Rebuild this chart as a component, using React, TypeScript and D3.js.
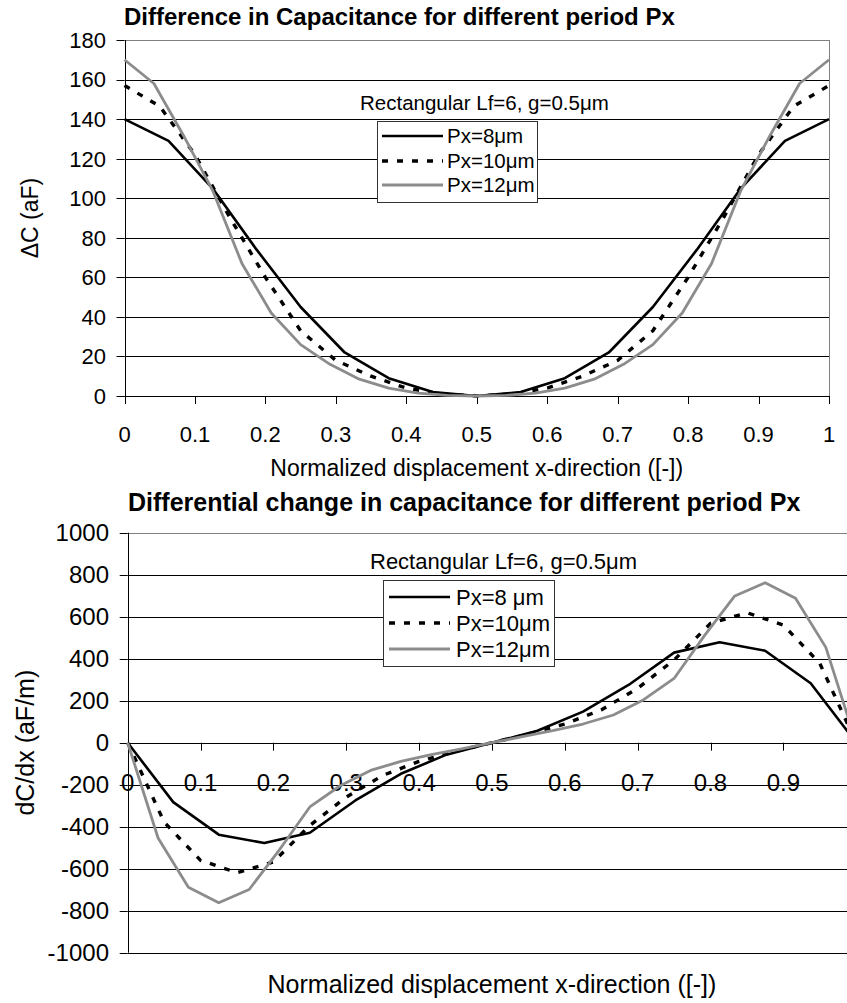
import React from "react";
import * as d3 from "d3";

// ---------- data ----------
const xTicks = [0, 0.1, 0.2, 0.3, 0.4, 0.5, 0.6, 0.7, 0.8, 0.9, 1];
const xTickLabels = ["0", "0.1", "0.2", "0.3", "0.4", "0.5", "0.6", "0.7", "0.8", "0.9", "1"];
const yTicksTop = [0, 20, 40, 60, 80, 100, 120, 140, 160, 180];
const yTicksBottom = [-1000, -800, -600, -400, -200, 0, 200, 400, 600, 800, 1000];

const x8 = [0, 0.0625, 0.125, 0.1875, 0.25, 0.3125, 0.375, 0.4375, 0.5, 0.5625, 0.625, 0.6875, 0.75, 0.8125, 0.875, 0.9375, 1];
const x10 = [0, 0.05, 0.1, 0.15, 0.2, 0.25, 0.3, 0.35, 0.4, 0.45, 0.5, 0.55, 0.6, 0.65, 0.7, 0.75, 0.8, 0.85, 0.9, 0.95, 1];
const x12 = [0, 0.0417, 0.0833, 0.125, 0.1667, 0.2083, 0.25, 0.2917, 0.3333, 0.375, 0.4167, 0.4583, 0.5,
  0.5417, 0.5833, 0.625, 0.6667, 0.7083, 0.75, 0.7917, 0.8333, 0.875, 0.9167, 0.9583, 1];

const dC8 = [140, 129, 105, 74, 45, 22, 9, 2, 0, 2, 9, 22, 45, 74, 105, 129, 140];
const dC10 = [157, 146.5, 122, 90, 60, 33, 18, 10, 4, 1, 0, 1, 4, 10, 18, 33, 60, 90, 122, 146.5, 157];
const dC12 = [170, 158, 132, 104, 67, 42, 26, 16, 8.5, 4, 1.5, 0.3, 0, 0.3, 1.5, 4, 8.5, 16, 26, 42, 67, 104, 132, 158, 170];

const dx8 = [0, -283, -438, -478, -429, -275, -148, -57, 0, 57, 148, 275, 429, 478, 438, 283, 0];
const dx10 = [0, -378, -560, -619, -568, -394, -259, -156, -89, -41, 0, 41, 89, 156, 259, 394, 568, 619, 560, 378, 0];
const dx12 = [0, -454, -688, -762, -699, -510, -306, -205, -132, -89, -57, -29, 0, 29, 57, 89, 132, 205, 306, 510, 699, 762, 688, 454, 0];

const legendTop = ["Px=8μm", "Px=10μm", "Px=12μm"];
const legendBottom = ["Px=8 μm", "Px=10μm", "Px=12μm"];
const noteText = "Rectangular Lf=6, g=0.5μm";

const FONT = "'Liberation Sans', Arial, sans-serif";

const styles = [
  { stroke: "#000", width: 2.6, dash: undefined as string | undefined },
  { stroke: "#000", width: 3.4, dash: "6,9" },
  { stroke: "#8c8c8c", width: 2.8, dash: undefined as string | undefined },
];

type Pt = [number, number];

function Panel(props: {
  x: d3.ScaleLinear<number, number>;
  y: d3.ScaleLinear<number, number>;
  yTicks: number[];
  series: { xs: number[]; ys: number[] }[];
  title: string;
  titleX: number;
  titleY: number;
  titleSize: number;
  fs: number;
  yLabel: string;
  yLabelX: number;
  xLabelY: number;
  xLabelSize: number;
  tickLabelY: number;
  axisY: number;
  yLabelRight: number;
  legend: string[];
  legBox: { x: number; y: number; w: number; h: number };
  legRows: number[];
  legLine: [number, number];
  legTextX: number;
  legFs: number;
  noteX: number;
  noteY: number;
  xTickCount: number;
}) {
  const { x, y } = props;
  const [x0, x1] = x.range();
  const [yb, yt] = y.range();
  const line = d3.line<Pt>().x((d) => x(d[0])).y((d) => y(d[1]));
  const crisp = (v: number) => Math.round(v) + 0.5;
  return (
    <g fontFamily={FONT}>
      <text x={props.titleX} y={props.titleY} fontSize={props.titleSize} fontWeight="bold" fill="#000">
        {props.title}
      </text>
      {/* gridlines */}
      {props.yTicks.map((t) => (
        <line key={"g" + t} x1={x0} x2={x1} y1={crisp(y(t))} y2={crisp(y(t))}
          stroke={t === props.yTicks[props.yTicks.length - 1] ? "#808080" : "#000"} strokeWidth={1} />
      ))}
      {/* right border */}
      <line x1={crisp(x1)} x2={crisp(x1)} y1={y(props.yTicks[props.yTicks.length - 1])} y2={yb} stroke="#808080" />
      {/* y axis */}
      <line x1={crisp(x0)} x2={crisp(x0)} y1={yt} y2={yb} stroke="#000" />
      {props.yTicks.map((t) => (
        <g key={"yt" + t}>
          <line x1={x0 - 8} x2={x0} y1={crisp(y(t))} y2={crisp(y(t))} stroke="#000" />
          <text x={props.yLabelRight} y={y(t)} dy="0.36em" textAnchor="end" fontSize={props.fs}>{t}</text>
        </g>
      ))}
      {/* x axis */}
      <line x1={x0} x2={x1} y1={crisp(props.axisY)} y2={crisp(props.axisY)} stroke="#000" />
      {xTicks.slice(0, props.xTickCount).map((t, i) => (
        <g key={"xt" + t}>
          <line x1={crisp(x(t))} x2={crisp(x(t))} y1={props.axisY} y2={props.axisY + 8} stroke="#000" />
          <text x={x(t)} y={props.tickLabelY} textAnchor="middle" fontSize={props.fs}>{xTickLabels[i]}</text>
        </g>
      ))}
      {/* series */}
      {props.series.map((s, i) => (
        <path key={"s" + i} d={line(s.xs.map((xv, j) => [xv, s.ys[j]] as Pt)) || ""} fill="none"
          stroke={styles[i].stroke} strokeWidth={styles[i].width} strokeDasharray={styles[i].dash}
          strokeLinejoin="round" />
      ))}
      {/* note */}
      <text x={props.noteX} y={props.noteY} fontSize={props.legFs}>{noteText}</text>
      {/* legend */}
      <rect x={props.legBox.x + 0.5} y={props.legBox.y + 0.5} width={props.legBox.w} height={props.legBox.h}
        fill="#fff" stroke="#333" />
      {props.legend.map((l, i) => (
        <g key={"l" + i}>
          <line x1={props.legLine[0]} x2={props.legLine[1]} y1={props.legRows[i]} y2={props.legRows[i]}
            stroke={styles[i].stroke} strokeWidth={styles[i].width} strokeDasharray={styles[i].dash} />
          <text x={props.legTextX} y={props.legRows[i]} dy="0.36em" fontSize={props.legFs}>{l}</text>
        </g>
      ))}
      {/* axis titles */}
      <text x={(x0 + x1) / 2} y={props.xLabelY} textAnchor="middle" fontSize={props.xLabelSize}>
        Normalized displacement x-direction ([-])
      </text>
      <text transform={`translate(${props.yLabelX},${(yt + yb) / 2}) rotate(-90)`} textAnchor="middle"
        fontSize={props.xLabelSize}>{props.yLabel}</text>
    </g>
  );
}

export default function App() {
  const xT = d3.scaleLinear().domain([0, 1]).range([124.5, 829]);
  const yT = d3.scaleLinear().domain([0, 180]).range([396, 40]);
  const xB = d3.scaleLinear().domain([0, 1]).range([127.7, 856.2]);
  const yB = d3.scaleLinear().domain([-1000, 1000]).range([952.7, 532.7]);
  return (
    <svg width={847} height={1003} style={{ position: "absolute", left: 0, top: 0, background: "#fff" }}>
      <rect width={847} height={1003} fill="#fff" />
      <Panel x={xT} y={yT} yTicks={yTicksTop}
        series={[{ xs: x8, ys: dC8 }, { xs: x10, ys: dC10 }, { xs: x12, ys: dC12 }]}
        title="Difference in Capacitance for different period Px" titleX={124} titleY={25} titleSize={24}
        fs={22} yLabel="ΔC (aF)" yLabelX={38} xLabelY={476} xLabelSize={23} tickLabelY={442} axisY={396}
        yLabelRight={106}
        legend={legendTop} legBox={{ x: 377, y: 121, w: 160, h: 81 }} legRows={[136, 161, 185]}
        legLine={[382, 443]} legTextX={447} legFs={20.5} noteX={360} noteY={110} xTickCount={11} />
      <Panel x={xB} y={yB} yTicks={yTicksBottom}
        series={[{ xs: x8, ys: dx8 }, { xs: x10, ys: dx10 }, { xs: x12, ys: dx12 }]}
        title="Differential change in capacitance for different period Px" titleX={128} titleY={511} titleSize={25}
        fs={24} yLabel="dC/dx (aF/m)" yLabelX={34} xLabelY={993} xLabelSize={25} tickLabelY={791} axisY={yB(0)}
        yLabelRight={109}
        legend={legendBottom} legBox={{ x: 383, y: 580, w: 171, h: 86 }} legRows={[597, 623, 649]}
        legLine={[389, 450]} legTextX={456} legFs={22} noteX={370} noteY={569} xTickCount={10} />
    </svg>
  );
}
